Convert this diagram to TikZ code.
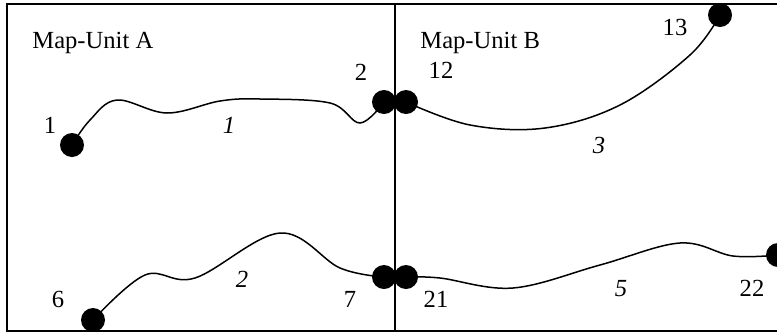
\documentclass[tikz,border=0pt]{standalone}
\usepackage{fontspec}
\setmainfont{Liberation Serif}
\usepackage{tikz}
\usetikzlibrary{positioning}

\begin{document}
\begin{tikzpicture}[
  x=0.5pt, y=-0.5pt,
  font=\fontsize{12.3}{14}\selectfont,
  pt/.style={circle, fill=black, minimum size=12pt, inner sep=0pt},
  lbl/.style={anchor=base, inner sep=0pt},
  arc/.style={line width=0.75pt},
  frame/.style={line width=0.8pt}
]
  \clip (0,0) rectangle (777,333);
  % map units
  \draw[frame] (777,4) -- (7,4) -- (7,331) -- (777,331);
  \draw[frame] (395,4) -- (395,331);
  \node[lbl, anchor=base west] (ua) at (32,48) {Map-Unit A};
  \node[lbl, anchor=base west] (ub) at (420,48) {Map-Unit B};
  % arcs
  \coordinate (c1) at (72,145);
  \coordinate (c2) at (384,102);
  \coordinate (c12) at (406,102);
  \coordinate (c13) at (720,15);
  \coordinate (c6) at (93,320);
  \coordinate (c7) at (384,277);
  \coordinate (c21) at (406,277);
  \coordinate (c22) at (778,255);
  \draw[arc] plot[smooth, tension=0.6] coordinates {(c1) (90,120) (117,100) (167,113) (220,101) (260,99) (330,103) (360,123) (c2)};
  \draw[arc] plot[smooth, tension=0.6] coordinates {(c6) (145,275) (195,278) (280,233) (340,268) (c7)};
  \draw[arc] plot[smooth, tension=0.6] coordinates {(c12) (470,125) (545,128) (620,105) (690,55) (c13)};
  \draw[arc] plot[smooth, tension=0.6] coordinates {(c21) (440,278) (513,288) (600,265) (680,243) (733,256) (c22)};
  % nodes
  \foreach \n in {1,2,12,13,6,7,21,22}
    \node[pt] (n\n) at (c\n) {};
  \node[lbl] (l1) at (50,133) {1};
  \node[lbl] (l2) at (361,80) {2};
  \node[lbl] (l12) at (441,78) {12};
  \node[lbl] (l13) at (675,35) {13};
  \node[lbl] (l6) at (58,307) {6};
  \node[lbl] (l7) at (350,307) {7};
  \node[lbl] (l21) at (436,307) {21};
  \node[lbl] (l22) at (752,296) {22};
  % arc labels
  \node[lbl] (a1) at (229,133) {\textit{1}};
  \node[lbl] (a2) at (242,287) {\textit{2}};
  \node[lbl] (a3) at (599,153) {\textit{3}};
  \node[lbl] (a5) at (621,296) {\textit{5}};
\end{tikzpicture}
\end{document}
